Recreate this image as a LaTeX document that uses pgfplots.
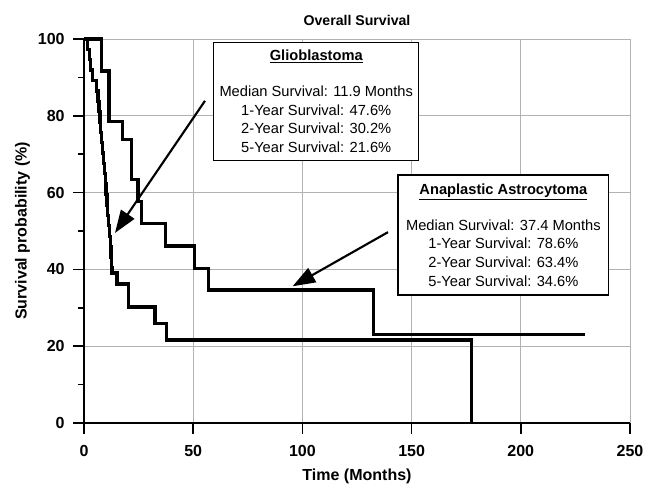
\documentclass[border=0pt]{standalone}
\usepackage{fontspec}
\setmainfont{Liberation Sans}
\usepackage{pgfplots}
\pgfplotsset{compat=1.18}
\usetikzlibrary{arrows.meta}

\begin{document}
\begin{tikzpicture}
\begin{axis}[
  scale only axis,
  width=409.5pt, height=288pt,
  xmin=0, xmax=250, ymin=0, ymax=100,
  xtick={0,50,...,250}, ytick={0,20,...,100},
  minor y tick num=1,
  axis x line*=bottom, axis y line*=left,
  axis line style={line width=2pt, -},
  tick align=outside,
  major tick length=8pt, minor tick length=4.5pt,
  every tick/.style={line width=1.3pt, black},
  grid=major,
  major grid style={black!30, line width=0.5pt},
  /pgf/number format/assume math mode=true,
  ticklabel style={font=\fontsize{12}{14}\selectfont\bfseries},
  xticklabel style={yshift=-5pt},
  yticklabel style={xshift=-3pt},
  xlabel={Time (Months)},
  ylabel={Survival probability (\%)},
  label style={font=\fontsize{12}{14}\selectfont\bfseries},
  xlabel style={at={(axis description cs:0.5,-0.14)}, anchor=center},
  ylabel style={at={(axis description cs:-0.1126,0.5)}, anchor=center},
  title={Overall Survival},
  title style={font=\fontsize{10.6}{12}\selectfont\bfseries,
    at={(axis description cs:0.5,1.0495)}, anchor=center, yshift=-6pt},
  clip=false,
]
% Glioblastoma
\addplot[const plot, black, line width=2.5pt, mark=none] coordinates {
(0,100) (1.6,97.3) (2.4,94.6) (3.1,91.9) (3.9,89.2) (5.8,86.5) (6.4,83.8)
(6.9,81.1) (7.3,78.4) (7.7,75.7) (8.1,73.0) (8.5,70.3) (8.9,67.6) (9.3,64.9)
(9.7,62.2) (10.1,59.5) (10.5,56.8) (10.9,54.1) (11.3,51.4) (11.7,48.6)
(12.0,45.9) (12.3,43.2) (12.6,40.5) (12.8,39.1) (15.1,36.2) (20.3,30.2)
(32.5,25.9) (37.8,21.6) (177.5,0)
};
% Anaplastic Astrocytoma
\addplot[const plot, black, line width=2.5pt, mark=none] coordinates {
(0,100) (8.0,91.7) (11.4,78.6) (17.7,73.9) (21.9,63.4) (24.8,57.6)
(26.4,51.9) (37.4,46.1) (50.6,40.3) (57.0,34.6) (132.5,23.0) (229.5,23.0)
};

\draw[line width=1.6pt, -{Triangle[length=17pt, width=12pt]}]
  (axis cs:55.4,83.9) -- (axis cs:14.2,49.5);
\draw[line width=1.6pt, -{Triangle[length=17pt, width=12pt]}]
  (axis cs:139.2,49.7) -- (axis cs:95.5,35.6);

\node[draw, line width=1pt, fill=white, align=center, anchor=north west,
  minimum width=153.75pt, minimum height=88.5pt, inner sep=1pt,
  font=\fontsize{11}{14}\selectfont]
  at (axis cs:59.1,99.3)
  {\textbf{\underline{Glioblastoma}}\\[13pt]
   Median Survival: 11.9 Months\\
   1-Year Survival: 47.6\%\\
   2-Year Survival: 30.2\%\\
   5-Year Survival: 21.6\%};
\node[draw, line width=1pt, fill=white, align=center, anchor=north west,
  minimum width=158pt, minimum height=90pt, inner sep=1pt,
  font=\fontsize{11}{14}\selectfont]
  at (axis cs:143.5,64.8)
  {\textbf{\underline{Anaplastic Astrocytoma}}\\[13pt]
   Median Survival: 37.4 Months\\
   1-Year Survival: 78.6\%\\
   2-Year Survival: 63.4\%\\
   5-Year Survival: 34.6\%};
\end{axis}
\path ([xshift=-63pt, yshift=-45.75pt]current axis.south west)
  rectangle ([xshift=25.5pt, yshift=29.25pt]current axis.north east);
\end{tikzpicture}
\end{document}
